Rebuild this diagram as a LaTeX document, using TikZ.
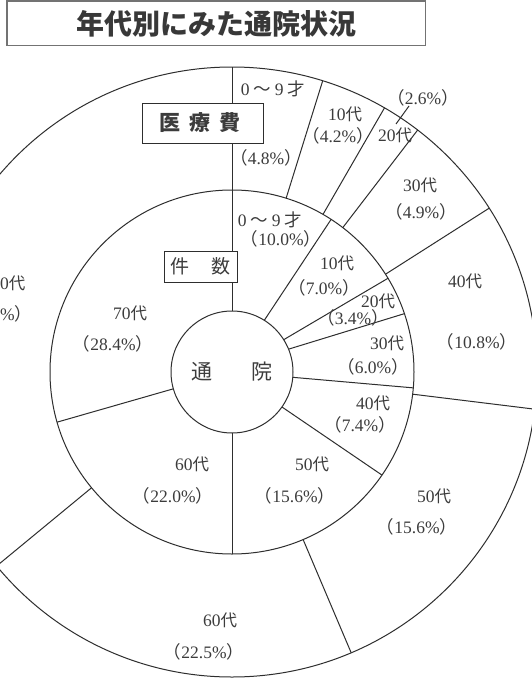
\documentclass[tikz,border=0pt]{standalone}
\usepackage{fontspec}
\setmainfont{Liberation Serif}
\newfontfamily\cjk{Noto Sans CJK JP}
\usetikzlibrary{calc}
\definecolor{ink}{HTML}{2E2E2E}
\definecolor{txt}{HTML}{3C3C3C}
\newcommand{\kd}{{\cjk\fontsize{16.5}{18}\selectfont 代}}
\newcommand{\lp}{{\cjk （}}
\newcommand{\rp}{{\cjk ）}}
\newcommand{\zn}{\makebox[0.95em]{0}{\cjk ～}\makebox[0.95em]{9}{\cjk 才}}
\newcommand{\pline}[4]{\draw[pie] ($(C)+({#3*sin(#1)},{-#3*cos(#1)})$) -- ($(C)+({#4*sin(#2)},{-#4*cos(#2)})$);}
\tikzset{
  pie/.style={draw=ink, line width=1pt},
  lab/.style={font=\fontsize{17.5}{18}\selectfont, text=txt, inner sep=0pt},
  boxlab/.style={draw=ink, line width=1pt, fill=white, inner sep=0pt},
}
\begin{document}
\begin{tikzpicture}[x=1pt,y=-1pt]
\useasboundingbox (0,0) rectangle (532,680);
\clip (0,0) rectangle (532,680);
\fill[white] (0,0) rectangle (532,680);
\coordinate (C) at (232,372);
% rings
\draw[pie] (C) circle[radius=305pt];
\draw[pie] (C) circle[radius=182pt];
% top vertical boundary (both rings)
\pline{0}{0}{61}{305}
% inner ring boundaries
\pline{32}{33}{61}{182}
\pline{58}{59}{61}{182}
\pline{68}{71.3}{61}{182}
\pline{95}{95}{61}{182}
\pline{125}{124.5}{61}{182}
\pline{180}{180}{61}{182}
\pline{254}{254}{61}{182}
% outer ring boundaries
\pline{17.3}{17.3}{182}{305}
\pline{30}{30}{182}{305}
\pline{37.5}{37.5}{182}{305}
\pline{57.5}{57.5}{182}{305}
\pline{97}{97}{182}{305}
\pline{157}{157}{182}{305}
\pline{230.5}{230.5}{182}{305}
% centre circle
\node[draw=ink, line width=1pt, fill=white, circle, minimum size=122pt, inner sep=0pt,
      font=\cjk\fontsize{21}{21}\selectfont, text=txt] (tsuin) at (C) {通\hspace{39pt}院};
% title
\draw[draw=black!55, line width=1.3pt] (7,1) rectangle (425.5,45.5);
\node[font=\cjk\bfseries\fontsize{28}{28}\selectfont, text=black!78, inner sep=0pt] (title) at (216,24) {年代別にみた通院状況};
% ring name boxes
\draw[boxlab] (142,103) rectangle (263,143);
\node[font=\cjk\bfseries\fontsize{21}{21}\selectfont, text=txt, inner sep=0pt] (iryohi) at (199.7,122.5) {医\hspace{9pt}療\hspace{9pt}費};
\draw[boxlab] (164,251.5) rectangle (237.5,282);
\node[font=\cjk\fontsize{19}{19}\selectfont, text=txt, inner sep=0pt] (kensu) at (200.5,266.5) {件\hspace{21.5pt}数};
% outer labels
\node[lab] (o09) at (271,89) {\zn};
\node[lab] (o09p) at (266,158) {\lp 4.8\%\rp};
\node[lab] (o10) at (345,114) {10\kd};
\node[lab] (o10p) at (338,135.5) {\lp 4.2\%\rp};
\node[lab] (o20) at (395,135.5) {20\kd};
\node[lab] (o20p) at (423,97.5) {\lp 2.6\%\rp};
\coordinate (lead1) at (396,124);
\coordinate (lead2) at (409,106);
\draw[pie] (lead1) -- (lead2);
\node[lab] (o30) at (420,185) {30\kd};
\node[lab] (o30p) at (421,212) {\lp 4.9\%\rp};
\node[lab] (o40) at (465,281) {40\kd};
\node[lab] (o40p) at (477,342) {\lp 10.8\%\rp};
\node[lab] (o50) at (434,496) {50\kd};
\node[lab] (o50p) at (417,527) {\lp 15.6\%\rp};
\node[lab] (o60) at (220,620) {60\kd};
\node[lab] (o60p) at (204,652) {\lp 22.5\%\rp};
\node[lab, anchor=west] (o70) at (0,283) {0\kd};
\node[lab, anchor=west] (o70p) at (0,314) {\%\rp};
% inner labels
\node[lab] (i09) at (268,220) {\zn};
\node[lab] (i09p) at (281,239) {\lp 10.0\%\rp};
\node[lab] (i10) at (337,263) {10\kd};
\node[lab] (i10p) at (324,288) {\lp 7.0\%\rp};
\node[lab] (i20) at (378,301) {20\kd};
\node[lab] (i20p) at (353,318) {\lp 3.4\%\rp};
\node[lab] (i30) at (387,343) {30\kd};
\node[lab] (i30p) at (373,367) {\lp 6.0\%\rp};
\node[lab] (i40) at (373,403) {40\kd};
\node[lab] (i40p) at (360,425) {\lp 7.4\%\rp};
\node[lab] (i50) at (312,464) {50\kd};
\node[lab] (i50p) at (295,496) {\lp 15.6\%\rp};
\node[lab] (i60) at (192,464) {60\kd};
\node[lab] (i60p) at (173,496) {\lp 22.0\%\rp};
\node[lab] (i70) at (130,313) {70\kd};
\node[lab] (i70p) at (113,344) {\lp 28.4\%\rp};
\end{tikzpicture}
\end{document}
